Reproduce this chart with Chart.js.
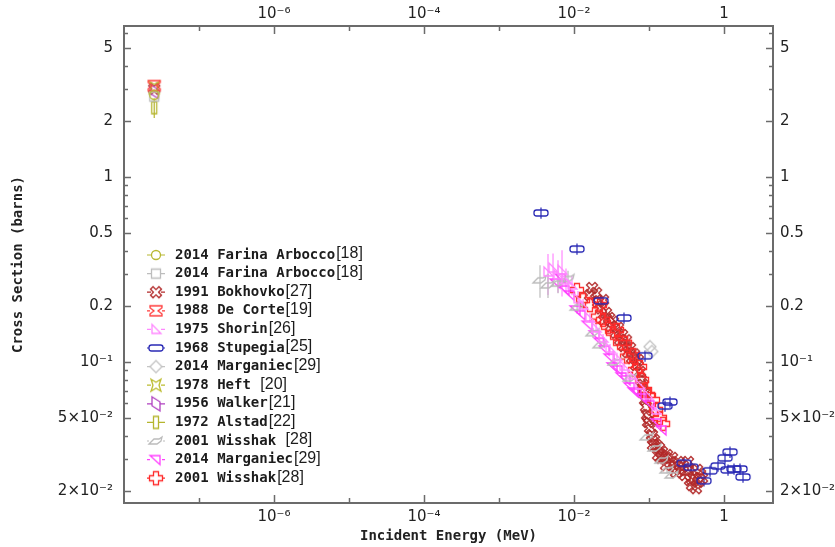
<!DOCTYPE html>
<html>
<head>
<meta charset="utf-8">
<script src="https://cdn.jsdelivr.net/npm/chart.js@4.4.0/dist/chart.umd.min.js"></script>
<style>
  html, body { margin: 0; padding: 0; background: #fff; }
  #wrap { width: 835px; height: 547px; position: relative; }
</style>
</head>
<body>
<div id="wrap"><canvas id="xsChart"></canvas></div>
<script>
// energies in MeV, cross sections in barns
const thermalE = 2.53e-8;

const xTickValues = [1e-6, 1e-4, 1e-2, 1];
const xTickLabels = ['10⁻⁶', '10⁻⁴', '10⁻²', '1'];
const xMinorTicks = [1e-7, 1e-5, 1e-3, 1e-1];
const yTickValues = [5, 2, 1, 0.5, 0.2, 0.1, 0.05, 0.02];
const yTickLabels = ['5', '2', '1', '0.5', '0.2', '10⁻¹', '5×10⁻²', '2×10⁻²'];
const yMinorTicks = [6, 4, 3, 0.9, 0.8, 0.7, 0.6, 0.4, 0.3, 0.09, 0.08, 0.07, 0.06, 0.04, 0.03];

const farinaCircleE = [thermalE];
const farinaCircleXS = [2.78];
const farinaSquareE = [thermalE];
const farinaSquareXS = [2.72];

const bokhovkoE = [thermalE, 0.0174, 0.0163, 0.0197, 0.0209, 0.0229, 0.0244, 0.0267, 0.0251, 0.0293,
  0.0311, 0.0331, 0.0363, 0.0386, 0.0411, 0.0437, 0.0464, 0.0494, 0.0525, 0.0558,
  0.0593, 0.0631, 0.0671, 0.0713, 0.0759, 0.0782, 0.0807, 0.0832, 0.0858, 0.0885,
  0.0912, 0.0941, 0.0970, 0.100, 0.1031, 0.1096, 0.113, 0.1166, 0.124, 0.1318,
  0.1359, 0.1445, 0.149, 0.1585, 0.1685, 0.1738, 0.1905, 0.2026, 0.2221, 0.229,
  0.2436, 0.259, 0.284, 0.302, 0.331, 0.331, 0.352, 0.374, 0.398, 0.423,
  0.437, 0.450, 0.479, 0.509];
const bokhovkoXS = [3.0, 0.251, 0.230, 0.236, 0.211, 0.195, 0.216, 0.184, 0.169, 0.173,
  0.156, 0.165, 0.144, 0.153, 0.132, 0.140, 0.122, 0.131, 0.113, 0.119,
  0.105, 0.110, 0.0964, 0.1025, 0.0884, 0.080, 0.0693, 0.0752, 0.068, 0.0624,
  0.0572, 0.0518, 0.0474, 0.0499, 0.044, 0.0403, 0.0356, 0.0379, 0.0356, 0.0314,
  0.0343, 0.0303, 0.0326, 0.0303, 0.0277, 0.0314, 0.0288, 0.0303, 0.0274, 0.0254,
  0.0288, 0.0261, 0.0274, 0.0245, 0.0261, 0.0288, 0.0230, 0.0216, 0.0236, 0.0208,
  0.0261, 0.0225, 0.0248, 0.0236];

const deCorteE = [thermalE];
const deCorteXS = [3.12];

const shorinE = [0.0045, 0.00525, 0.00612, 0.00692, 0.00782, 0.0094, 0.0113, 0.0132, 0.0163, 0.0197,
  0.0244, 0.0302, 0.0374, 0.0464, 0.0593, 0.0759, 0.097, 0.124];
const shorinXS = [0.307, 0.322, 0.296, 0.314, 0.278, 0.261, 0.220, 0.203, 0.173, 0.153,
  0.135, 0.119, 0.107, 0.095, 0.0851, 0.0752, 0.0664, 0.0551];
const shorinErr = [0.25, 0.2, 0.2, 0.28, 0.15, 0.12, 0.1, 0.08, 0.06, 0.06,
  0.05, 0.05, 0.05, 0.05, 0.05, 0.05, 0.05, 0.05];

const stupegiaE = [0.00363, 0.01096, 0.0229, 0.0464, 0.0885, 0.1905, 0.1634, 0.293, 0.363, 0.541,
  0.651, 0.832, 1.031, 1.202, 1.131, 1.359, 1.634, 1.792];
const stupegiaXS = [0.639, 0.408, 0.214, 0.173, 0.108, 0.0608, 0.0578, 0.0284, 0.0270, 0.0228,
  0.0258, 0.0274, 0.0303, 0.0326, 0.0261, 0.0264, 0.0264, 0.0239];
const stupegiaErr = [0.07, 0.07, 0.07, 0.07, 0.07, 0.07, 0.07, 0.07, 0.07, 0.07,
  0.07, 0.07, 0.07, 0.07, 0.07, 0.07, 0.07, 0.07];

const marganiecGrayE = [0.103, 0.109];
const marganiecGrayXS = [0.121, 0.114];

const heftE = [thermalE];
const heftXS = [3.05];
const walkerE = [thermalE];
const walkerXS = [2.9];
const alstadE = [thermalE];
const alstadXS = [2.37];
const alstadErr = [0.12];

const wisshakGrayE = [0.00352, 0.0045, 0.00612, 0.00832, 0.011, 0.0179, 0.0222, 0.0352, 0.0558, 0.0941,
  0.120, 0.149, 0.174, 0.203];
const wisshakGrayXS = [0.278, 0.261, 0.267, 0.283, 0.198, 0.144, 0.124, 0.100, 0.082, 0.0394,
  0.0343, 0.0295, 0.0261, 0.0245];
const wisshakGrayErr = [0.2, 0.15, 0.12, 0.1, 0.08, 0.06, 0.05, 0.05, 0.05, 0.04,
  0.04, 0.04, 0.04, 0.04];

const marganiecE = [0.00575, 0.00671, 0.00759, 0.00885, 0.01063, 0.0124, 0.0154, 0.0191, 0.0222, 0.0259,
  0.0302, 0.0331, 0.0386, 0.0437, 0.0494, 0.0558, 0.0631, 0.069, 0.0807, 0.1031, 0.128, 0.149];
const marganiecXS = [0.267, 0.284, 0.245, 0.230, 0.191, 0.180, 0.158, 0.140, 0.128, 0.116,
  0.105, 0.094, 0.0906, 0.083, 0.080, 0.0733, 0.0689, 0.068, 0.0639, 0.0586, 0.0468, 0.0429];

const wisshakRedE = [0.01096, 0.01318, 0.0163, 0.0209, 0.0222, 0.0244, 0.0284, 0.0331, 0.0374, 0.0411,
  0.0479, 0.0509, 0.0612, 0.0651, 0.0759, 0.0807, 0.0885, 0.097, 0.113, 0.124, 0.140, 0.154];
const wisshakRedXS = [0.245, 0.216, 0.203, 0.176, 0.203, 0.169, 0.155, 0.144, 0.149, 0.127,
  0.127, 0.107, 0.109, 0.0906, 0.094, 0.080, 0.0706, 0.0664, 0.0624, 0.0551, 0.0499, 0.0463];

// outline markers drawn once into small canvases
const shapes = {
  circle: g => { g.arc(0, 0, 4.5, 0, Math.PI * 2); },
  square: g => { g.rect(-4.5, -4.5, 9, 9); },
  saltire: g => { g.rotate(Math.PI / 4); poly(g, crossPts(1.8, 6)); },
  hourglass: g => { poly(g, [[-6, -5], [6, -5], [6, -3], [2, 0], [6, 3], [6, 5], [-6, 5], [-6, 3], [-2, 0], [-6, -3]]); },
  triRight: g => { poly(g, [[-4, -5], [5, 4], [-4, 4]]); },
  pill: g => { g.roundRect(-7, -3, 14, 6, 2.5); },
  diamond: g => { poly(g, [[0, -6], [6, 0], [0, 6], [-6, 0]]); },
  star: g => { poly(g, [[-5, -6], [0, -3], [5, -6], [3, 0], [5, 6], [0, 3], [-5, 6], [-3, 0]]); },
  parallelogram: g => { poly(g, [[-4, -7], [4, -2], [4, 7], [-4, 2]]); },
  tallRect: g => { g.rect(-2.5, -6, 5, 12); },
  arrow: g => { poly(g, [[-7, 3], [-2, -2], [3, -2], [6, -4], [5, 0], [1, 3]]); },
  triDown: g => { poly(g, [[-6, -4], [4, -4], [4, 5]]); },
  plus: g => { poly(g, crossPts(2.5, 6.5)); }
};
const halfWidth = { circle: 5, square: 5, saltire: 5, hourglass: 6, triRight: 5, pill: 7, diamond: 6,
  star: 5, parallelogram: 4, tallRect: 3, arrow: 7, triDown: 6, plus: 6.5 };

function crossPts(a, L) {
  return [[-a, -L], [a, -L], [a, -a], [L, -a], [L, a], [a, a], [a, L], [-a, L], [-a, a], [-L, a], [-L, -a], [-a, -a]];
}
function poly(g, pts) {
  g.moveTo(pts[0][0], pts[0][1]);
  pts.slice(1).forEach(p => g.lineTo(p[0], p[1]));
  g.closePath();
}
function marker(kind, color) {
  const c = document.createElement('canvas');
  c.width = 20; c.height = 20;
  const g = c.getContext('2d');
  g.translate(10, 10);
  g.strokeStyle = color;
  g.lineWidth = 1.3;
  g.beginPath();
  shapes[kind](g);
  g.stroke();
  return c;
}
function pts(xs, ys) {
  return xs.map((x, i) => ({ x: x, y: ys[i] }));
}

const datasets = [
  { label: '2014 Farina Arbocco[18]', color: '#b8b832', shape: 'circle', data: pts(farinaCircleE, farinaCircleXS) },
  { label: '2014 Farina Arbocco[18]', color: '#bdbdbd', shape: 'square', data: pts(farinaSquareE, farinaSquareXS) },
  { label: '1991 Bokhovko[27]', color: '#b22a2a', shape: 'saltire', data: pts(bokhovkoE, bokhovkoXS), order: 5 },
  { label: '1988 De Corte[19]', color: '#ff3b3b', shape: 'hourglass', data: pts(deCorteE, deCorteXS) },
  { label: '1975 Shorin[26]', color: '#ff88ff', shape: 'triRight', data: pts(shorinE, shorinXS), errors: shorinErr },
  { label: '1968 Stupegia[25]', color: '#2a2ab5', shape: 'pill', data: pts(stupegiaE, stupegiaXS), errors: stupegiaErr },
  { label: '2014 Marganiec[29]', color: '#c4c4c4', shape: 'diamond', data: pts(marganiecGrayE, marganiecGrayXS) },
  { label: '1978 Heft [20]', color: '#bcbc30', shape: 'star', data: pts(heftE, heftXS) },
  { label: '1956 Walker[21]', color: '#b040c0', shape: 'parallelogram', data: pts(walkerE, walkerXS) },
  { label: '1972 Alstad[22]', color: '#b5b52e', shape: 'tallRect', data: pts(alstadE, alstadXS), errors: alstadErr },
  { label: '2001 Wisshak [28]', color: '#bcbcbc', shape: 'arrow', data: pts(wisshakGrayE, wisshakGrayXS), errors: wisshakGrayErr },
  { label: '2014 Marganiec[29]', color: '#ff40ff', shape: 'triDown', data: pts(marganiecE, marganiecXS) },
  { label: '2001 Wisshak[28]', color: '#ff2a2a', shape: 'plus', data: pts(wisshakRedE, wisshakRedXS), order: 1 }
].map(d => ({
  label: d.label,
  data: d.data,
  errors: d.errors,
  shape: d.shape,
  order: d.order || 0,
  borderColor: d.color,
  backgroundColor: d.color,
  pointStyle: marker(d.shape, d.color),
  pointRadius: 5
}));

// vertical error bars from the fractional errors
const errorBars = {
  id: 'errorBars',
  beforeDatasetsDraw(chart) {
    const ctx = chart.ctx, ys = chart.scales.y;
    chart.data.datasets.forEach((ds, i) => {
      if (!ds.errors) return;
      const meta = chart.getDatasetMeta(i);
      ctx.save();
      ctx.strokeStyle = ds.borderColor;
      ctx.lineWidth = 1.2;
      meta.data.forEach((pt, j) => {
        const e = ds.errors[j];
        if (!e) return;
        const v = ds.data[j].y;
        ctx.beginPath();
        ctx.moveTo(pt.x, ys.getPixelForValue(v * (1 + e)));
        ctx.lineTo(pt.x, ys.getPixelForValue(v * (1 - e)));
        ctx.stroke();
      });
      ctx.restore();
    });
  }
};

// box with inward ticks on all four sides
const frame = {
  id: 'frame',
  afterDraw(chart) {
    const { ctx, chartArea: a, scales } = chart;
    ctx.save();
    ctx.strokeStyle = '#6b6b6b';
    ctx.lineWidth = 2;
    ctx.strokeRect(a.left, a.top, a.right - a.left, a.bottom - a.top);
    ctx.lineWidth = 1.5;
    ctx.beginPath();
    const xt = (vals, len) => vals.forEach(v => {
      const px = Math.round(scales.x.getPixelForValue(v)) + 0.5;
      ctx.moveTo(px, a.bottom); ctx.lineTo(px, a.bottom - len);
      ctx.moveTo(px, a.top); ctx.lineTo(px, a.top + len);
    });
    const yt = (vals, len) => vals.forEach(v => {
      const py = Math.round(scales.y.getPixelForValue(v)) + 0.5;
      ctx.moveTo(a.left, py); ctx.lineTo(a.left + len, py);
      ctx.moveTo(a.right, py); ctx.lineTo(a.right - len, py);
    });
    xt(xTickValues, 8); xt(xMinorTicks, 5);
    yt(yTickValues, 7); yt(yMinorTicks, 4);
    ctx.stroke();
    ctx.restore();
  }
};

// legend inside the plot, lower left
const insetLegend = {
  id: 'insetLegend',
  afterDraw(chart) {
    const ctx = chart.ctx;
    const cx = 156;
    chart.data.datasets.forEach((ds, i) => {
      const y = 255 + i * 18.6;
      const hw = halfWidth[ds.shape];
      ctx.save();
      ctx.strokeStyle = ds.borderColor;
      ctx.lineWidth = 1.2;
      ctx.beginPath();
      ctx.moveTo(cx - 9, y); ctx.lineTo(cx - hw, y);
      ctx.moveTo(cx + hw, y); ctx.lineTo(cx + 9, y);
      ctx.stroke();
      ctx.drawImage(ds.pointStyle, cx - 10, y - 10);
      const k = ds.label.indexOf('[');
      const main = ds.label.slice(0, k), ref = ds.label.slice(k);
      ctx.fillStyle = '#1c1c1c';
      ctx.textBaseline = 'middle';
      ctx.font = 'bold 14px "DejaVu Sans Mono"';
      ctx.fillText(main, 175, y);
      const w = ctx.measureText(main).width;
      ctx.font = '16px "Liberation Sans"';
      ctx.fillText(ref, 175 + w + 1, y - 1);
      ctx.restore();
    });
  }
};

function logAxis(pos, min, max, values, labels, size, pad, title) {
  const horiz = pos === 'top' || pos === 'bottom';
  return {
    type: 'logarithmic',
    position: pos,
    axis: horiz ? 'x' : 'y',
    min: min,
    max: max,
    grid: { display: false, drawTicks: false },
    border: { display: false },
    afterBuildTicks: s => { s.ticks = values.map(v => ({ value: v })); },
    afterFit: s => { if (horiz) s.height = size; else s.width = size; },
    ticks: {
      autoSkip: false,
      maxRotation: 0,
      padding: pad,
      color: '#222',
      font: { family: 'DejaVu Sans', size: 15 },
      callback: v => {
        const i = values.findIndex(t => Math.abs(Math.log10(t) - Math.log10(v)) < 1e-6);
        return i < 0 ? '' : labels[i];
      }
    },
    title: title || { display: false }
  };
}

const titleFont = { family: 'DejaVu Sans Mono', size: 14, weight: 'bold' };
const xMin = 1e-8, xMax = 4.5, yMin = 0.01729, yMax = 6.55;

new Chart(document.getElementById('xsChart'), {
  type: 'scatter',
  data: { datasets: datasets },
  options: {
    responsive: true,
    maintainAspectRatio: false,
    animation: false,
    layout: { padding: 0 },
    plugins: { legend: { display: false }, tooltip: { enabled: false } },
    scales: {
      x: logAxis('bottom', xMin, xMax, xTickValues, xTickLabels, 44, 5,
        { display: true, text: 'Incident Energy (MeV)', color: '#222', font: titleFont, padding: { top: 0, bottom: 2 } }),
      x2: logAxis('top', xMin, xMax, xTickValues, xTickLabels, 26, 3),
      y: logAxis('left', yMin, yMax, yTickValues, yTickLabels, 124, 11,
        { display: true, text: 'Cross Section (barns)', color: '#222', font: titleFont, padding: { top: 10, bottom: 0 } }),
      y2: logAxis('right', yMin, yMax, yTickValues, yTickLabels, 62, 7)
    }
  },
  plugins: [errorBars, frame, insetLegend]
});
</script>
</body>
</html>
